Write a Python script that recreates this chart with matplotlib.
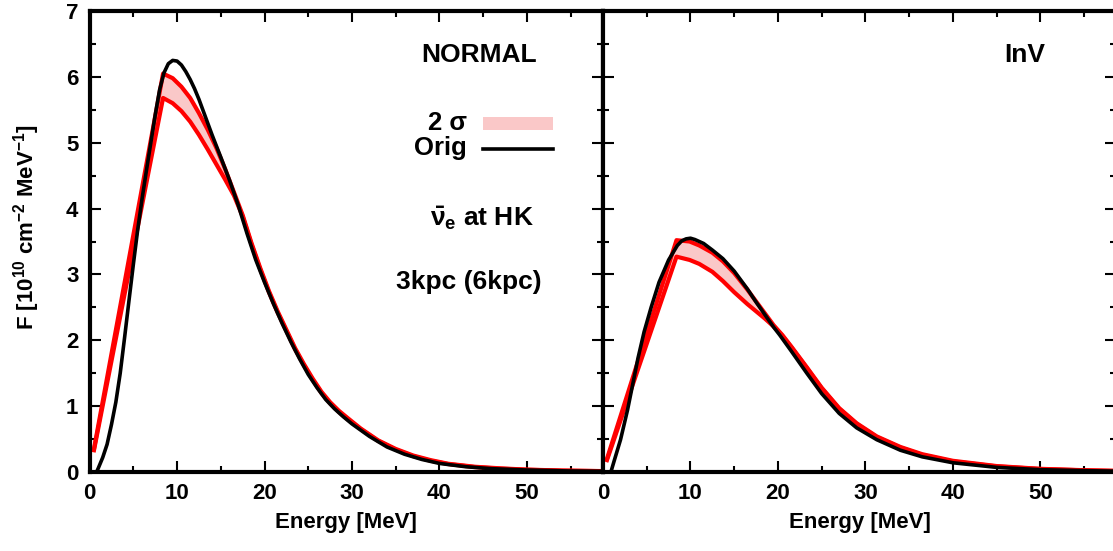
import matplotlib
matplotlib.use("Agg")
import matplotlib.pyplot as plt
from matplotlib.ticker import MultipleLocator
from matplotlib.patches import Rectangle

plt.rcParams['font.family'] = ['Liberation Sans', 'DejaVu Sans']
plt.rcParams['font.weight'] = 'bold'
plt.rcParams['axes.labelweight'] = 'bold'
plt.rcParams['font.size'] = 16
plt.rcParams['mathtext.fontset'] = 'custom'
plt.rcParams['mathtext.rm'] = 'Liberation Sans:bold'
plt.rcParams['mathtext.bf'] = 'Liberation Sans:bold'
plt.rcParams['mathtext.it'] = 'Liberation Sans'

# ---- NORMAL hierarchy ----
norm_orig_e = [0.8, 1.0, 1.5, 2.0, 2.5, 3.0, 3.5, 4.0, 4.5, 5.0, 5.5, 6.0, 6.5, 7.0, 7.5, 8.0,
               8.5, 9.0, 9.5, 10.0, 10.5, 11.0, 11.5, 12.0, 12.5, 13.0, 13.5, 14.0, 15.0,
               16.0, 17.0, 18.0, 19.0, 20.0, 21.0, 22.0, 23.0, 24.0, 25.0, 26.0, 27.0, 28.0,
               29.0, 30.0, 32.0, 34.0, 36.0, 38.0, 40.0, 43.0, 46.0, 50.0, 55.0, 59.0]
norm_orig_f = [0.0, 0.06, 0.22, 0.42, 0.72, 1.06, 1.5, 2.04, 2.6, 3.15, 3.68, 4.15, 4.58, 5.0,
               5.42, 5.8, 6.06, 6.2, 6.25, 6.24, 6.18, 6.08, 5.96, 5.82, 5.66, 5.48, 5.3, 5.12,
               4.78, 4.43, 4.05, 3.62, 3.22, 2.88, 2.56, 2.26, 1.98, 1.72, 1.48, 1.28, 1.1,
               0.96, 0.84, 0.73, 0.54, 0.38, 0.27, 0.19, 0.13, 0.08, 0.05, 0.03, 0.015, 0.01]

norm_band_e = [0.5, 8.4, 9.5, 10.5, 11.5, 12.5, 13.5, 14.5, 15.5, 16.5, 17.5, 18.5, 19.5,
               20.5, 21.5, 22.5, 23.5, 24.5, 25.5, 26.5, 27.5, 28.5, 29.5, 31.0, 33.0, 35.0,
               37.0, 39.0, 41.0, 44.0, 47.0, 50.0, 54.0, 59.0]
norm_band_lo = [0.33, 5.68, 5.6, 5.48, 5.32, 5.12, 4.9, 4.67, 4.44, 4.2, 3.88, 3.46, 3.08,
                2.73, 2.42, 2.14, 1.86, 1.62, 1.4, 1.2, 1.04, 0.91, 0.8, 0.65, 0.47, 0.34,
                0.24, 0.17, 0.12, 0.075, 0.05, 0.034, 0.02, 0.012]
norm_band_hi = [0.35, 6.05, 5.98, 5.85, 5.68, 5.45, 5.2, 4.92, 4.6, 4.25, 3.9, 3.48, 3.1,
                2.75, 2.44, 2.16, 1.88, 1.64, 1.42, 1.22, 1.06, 0.93, 0.82, 0.66, 0.48, 0.35,
                0.25, 0.18, 0.125, 0.08, 0.055, 0.036, 0.022, 0.013]

# ---- InV hierarchy ----
inv_orig_e = [0.9, 1.3, 2.0, 2.8, 3.5, 4.0, 4.7, 5.5, 6.4, 7.5, 8.5, 9.0, 9.5, 10.0, 10.5,
              11.5, 12.5, 13.7, 15.0, 16.5, 17.5, 18.5, 19.5, 20.2, 21.5, 23.3, 25.0, 27.0,
              29.0, 31.3, 34.0, 36.5, 40.0, 45.0, 50.0, 55.0, 59.0]
inv_orig_f = [0.0, 0.18, 0.49, 0.94, 1.4, 1.73, 2.13, 2.5, 2.88, 3.22, 3.44, 3.51, 3.54, 3.55,
              3.53, 3.47, 3.37, 3.24, 3.05, 2.78, 2.58, 2.39, 2.2, 2.08, 1.84, 1.5, 1.19,
              0.89, 0.67, 0.49, 0.33, 0.23, 0.14, 0.07, 0.035, 0.02, 0.012]

inv_band_e = [0.45, 8.4, 9.9, 11.0, 12.5, 13.7, 15.0, 16.5, 17.5, 18.5, 19.5, 20.5, 21.5,
              23.3, 25.0, 27.0, 29.0, 31.3, 34.0, 36.5, 40.0, 45.0, 50.0, 55.0, 59.0]
inv_band_lo = [0.18, 3.27, 3.22, 3.16, 3.04, 2.9, 2.73, 2.55, 2.44, 2.33, 2.21, 2.07, 1.9,
               1.58, 1.27, 0.96, 0.73, 0.53, 0.37, 0.26, 0.16, 0.085, 0.045, 0.025, 0.015]
inv_band_hi = [0.2, 3.52, 3.5, 3.44, 3.33, 3.2, 3.02, 2.77, 2.59, 2.41, 2.23, 2.08, 1.91,
               1.59, 1.28, 0.97, 0.74, 0.54, 0.38, 0.27, 0.17, 0.09, 0.048, 0.027, 0.016]

pink = '#fac8c8'

fig = plt.figure(figsize=(11.13, 5.51), dpi=100)
ax1 = fig.add_axes([0.0805, 0.1434, 0.4613, 0.8366])
ax2 = fig.add_axes([0.5418, 0.1434, 0.4613, 0.8366])


def draw_panel(ax, band_e, lo, hi, orig_e, orig_f):
    ax.fill_between(band_e, lo, hi, color=pink, lw=0)
    ax.plot(band_e, lo, color='red', lw=3)
    ax.plot(band_e, hi, color='red', lw=3)
    ax.plot(orig_e, orig_f, color='black', lw=2.6)
    ax.set_xlim(0, 58.7)
    ax.set_ylim(0, 7)
    ax.xaxis.set_major_locator(MultipleLocator(10))
    ax.xaxis.set_minor_locator(MultipleLocator(5))
    ax.yaxis.set_major_locator(MultipleLocator(1))
    ax.yaxis.set_minor_locator(MultipleLocator(0.5))
    ax.tick_params(which='both', direction='in', top=True, right=True, width=1.5)
    ax.tick_params(which='major', length=8, pad=8)
    ax.tick_params(which='minor', length=4)
    for s in ax.spines.values():
        s.set_linewidth(3)
    ax.set_xlabel('Energy [MeV]', labelpad=6)


draw_panel(ax1, norm_band_e, norm_band_lo, norm_band_hi, norm_orig_e, norm_orig_f)
draw_panel(ax2, inv_band_e, inv_band_lo, inv_band_hi, inv_orig_e, inv_orig_f)
ax2.set_yticklabels([])

ax1.set_ylabel(r'F [10$^{\mathbf{10}}$ cm$^{\mathbf{-2}}$ MeV$^{\mathbf{-1}}$]')
ax1.yaxis.set_label_coords(-0.093, 0.53)

ax1.text(44.5, 6.33, 'NORMAL', ha='center', va='center', fontsize=19)
ax2.text(48.2, 6.33, 'InV', ha='center', va='center', fontsize=19)

# legend drawn by hand
ax1.text(43.1, 5.3, '2 σ', ha='right', va='center', fontsize=18.5)
ax1.add_patch(Rectangle((45.0, 5.2), 8.0, 0.19, color=pink, lw=0))
ax1.text(43.1, 4.92, 'Orig', ha='right', va='center', fontsize=18.5)
ax1.plot([45.0, 53.0], [4.9, 4.9], color='black', lw=2.6)

ax1.text(44.9, 3.85, r'$\bar{\nu}_\mathbf{e}$ at HK', ha='center', va='center', fontsize=19)
ax1.text(43.3, 2.88, '3kpc (6kpc)', ha='center', va='center', fontsize=19)

fig.savefig('out.png', dpi=100)
